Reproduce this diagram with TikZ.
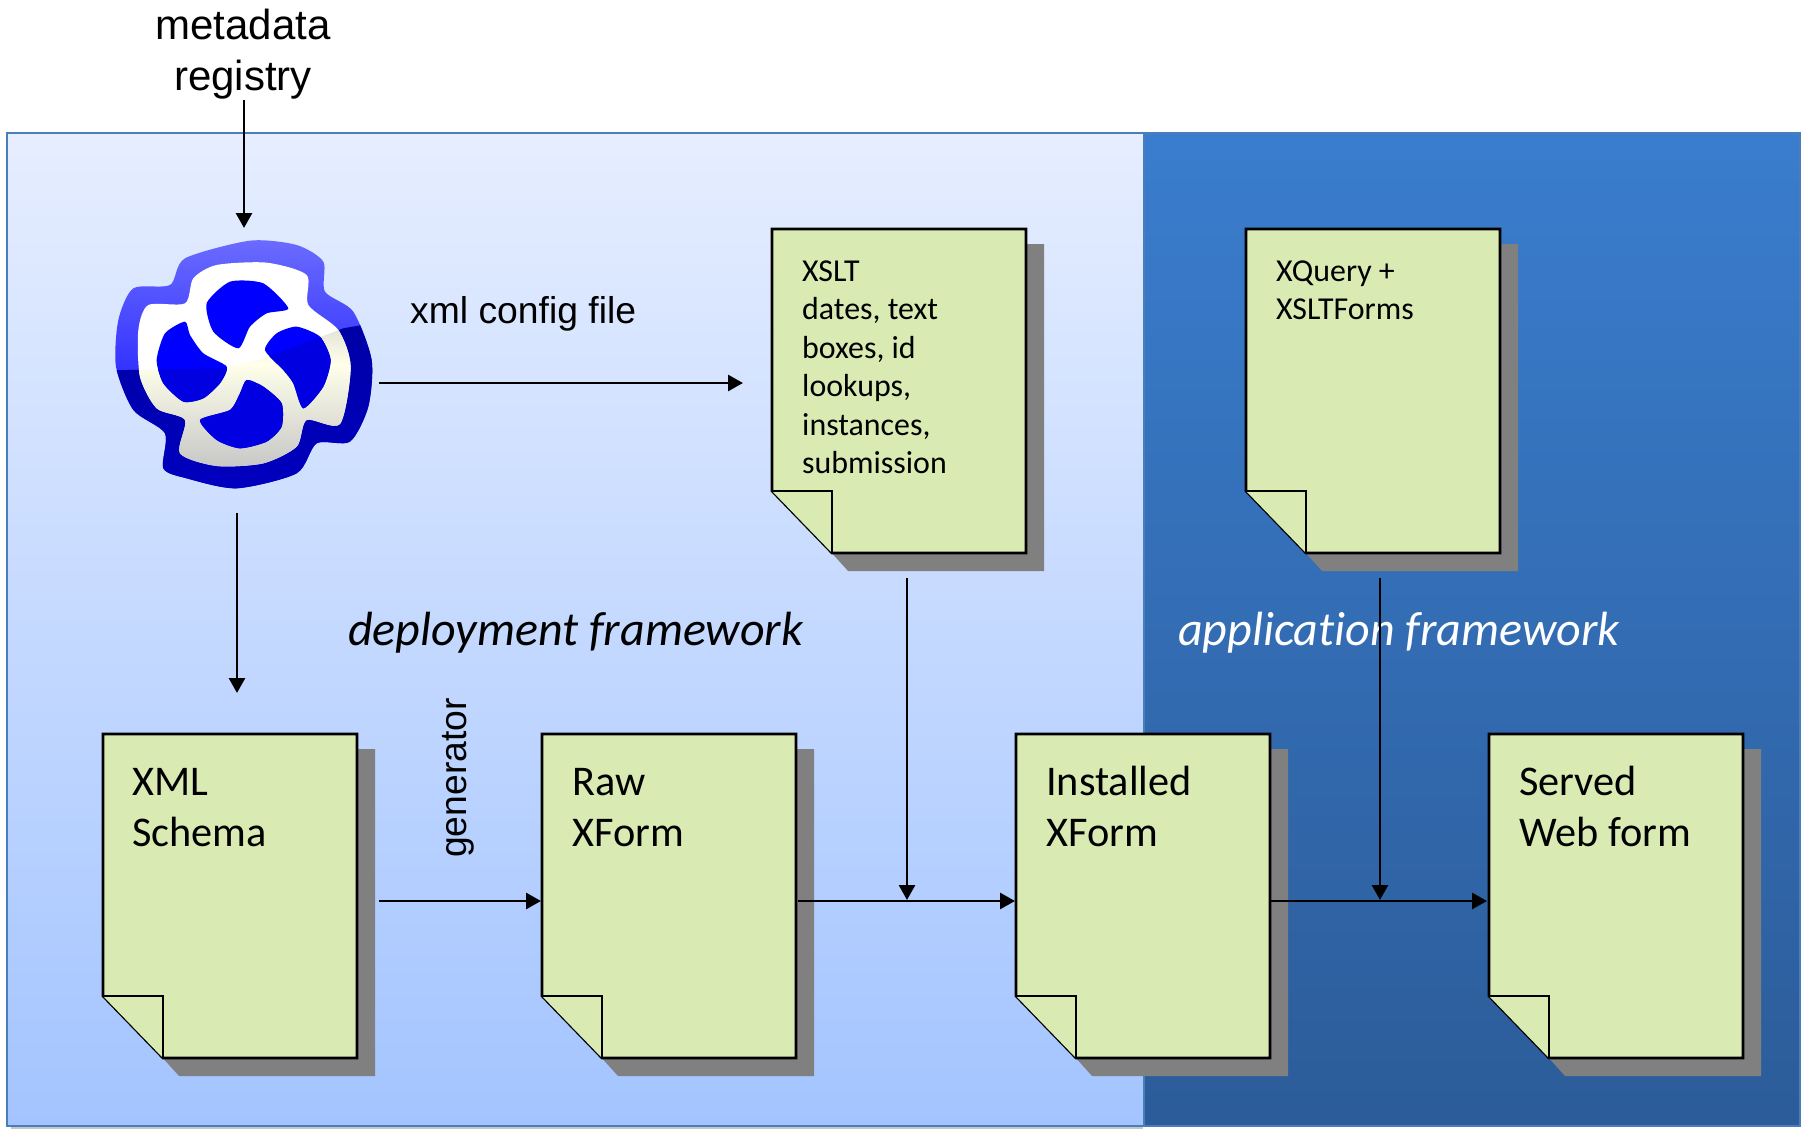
\documentclass[tikz,border=0pt]{standalone}
\usepackage{fontspec}
\setmainfont{Carlito}
\newfontfamily\arialf{Liberation Sans}
\usetikzlibrary{arrows.meta,shadows}
\definecolor{docgreen}{HTML}{D9EAB3}
\definecolor{docshadow}{HTML}{808080}
\definecolor{panelline}{HTML}{4A7EBB}
\definecolor{lefttop}{HTML}{E6EEFF}
\definecolor{leftbot}{HTML}{A3C4FF}
\definecolor{righttop}{HTML}{3A7DCE}
\definecolor{rightbot}{HTML}{2C5C99}
\tikzset{
  x=1pt,y=-1pt,
  flow/.style={draw=black,line width=2.8pt,-{Triangle[length=15pt,width=16pt]}},
  docbody/.style={draw=black,line width=2.6pt,fill=docgreen,line join=miter},
  docshade/.style={fill=docshadow},
  biglabel/.style={anchor=north west,inner sep=0pt,align=left,font=\fontsize{42.3}{51}\selectfont},
  smalllabel/.style={anchor=north west,inner sep=0pt,align=left,font=\fontsize{31.9}{38.5}\selectfont},
  arialtext/.style={inner sep=0pt,font=\arialf\fontsize{42}{51}\selectfont,align=center},
  arialsmall/.style={inner sep=0pt,font=\arialf\fontsize{37.3}{44}\selectfont},
  frametext/.style={inner sep=0pt,anchor=base west,font=\itshape\fontsize{48}{56}\selectfont},
}
% #1 left, #2 top
\newcommand{\paperdoc}[2]{%
  \fill[docshade] (#1+60,#2+15) -- (#1+272,#2+15) -- (#1+272,#2+342) -- (#1+76,#2+342) -- (#1+58,#2+322) -- cycle;
  \draw[docbody] (#1,#2) -- (#1+254,#2) -- (#1+254,#2+324) -- (#1+60,#2+324) -- (#1,#2+262) -- cycle;
  \draw[docbody,line width=2pt] (#1,#2+262) -- (#1+60,#2+262) -- (#1+60,#2+324);
}
\newcommand{\firstline}{\vphantom{Xdg}}
\begin{document}
\begin{tikzpicture}
\useasboundingbox (0,0) rectangle (1812,1129);
% panels
\fill[gray!45] (11,1129) rectangle (1143,1125);
\shade[top color=lefttop,bottom color=leftbot] (7,133) rectangle (1143,1125);
\shade[top color=righttop,bottom color=rightbot] (1143,133) rectangle (1800,1125);
\draw[panelline,line width=2pt] (7,133) rectangle (1799.5,1126);
\draw[panelline,line width=1.5pt] (1144,133) -- (1144,1125);
% documents
\paperdoc{772}{229}
\paperdoc{1246}{229}
\paperdoc{103}{734}
\paperdoc{542}{734}
\paperdoc{1016}{734}
\paperdoc{1489}{734}
\node[smalllabel] (xslt) at (802,259) {\firstline XSLT\\dates, text\\boxes, id\\lookups,\\instances,\\submission};
\node[smalllabel] (xquery) at (1276,259) {\firstline XQuery +\\XSLTForms};
\node[biglabel] (schema) at (132,766) {\firstline XML\\Schema};
\node[biglabel] (raw) at (572,766) {\firstline Raw\\XForm};
\node[biglabel] (installed) at (1046,766) {\firstline Installed\\XForm};
\node[biglabel] (served) at (1519,766) {\firstline Served\\Web form};
% logo
\begin{scope}[shift={(90,220)},x=0.3333pt,y=-0.3333pt]
  \def\outerblob{(480,62) (620,75) (700,125) (705,215) (790,275) (845,420) (835,560) (780,665) (680,670) (620,760) (440,805) (290,775) (220,745) (225,640) (130,570) (78,440) (85,300) (130,205) (240,195) (285,115)}
  \def\ringblob{(175,255) (285,250) (310,175) (380,135) (530,128) (650,165) (655,255) (745,330) (782,440) (750,612) (650,600) (620,680) (520,730) (380,738) (270,700) (285,600) (200,565) (150,470) (145,330)}
  \def\splitline{(0,452) -- (400,445) -- (510,420) -- (760,325) -- (900,300) -- (900,850) -- (0,850) -- cycle}
  \shade[top color=blue!58!white,bottom color=blue] plot[smooth cycle,tension=0.45] coordinates {\outerblob};
  \begin{scope}
    \clip \splitline;
    \shade[top color=black!40!blue,bottom color=black!25!blue] plot[smooth cycle,tension=0.45] coordinates {\outerblob};
  \end{scope}
  \fill[white] plot[smooth cycle,tension=0.45] coordinates {\ringblob};
  \begin{scope}
    \clip \splitline;
    \shade[top color=black!30,bottom color=black!22,middle color=white!92!yellow] plot[smooth cycle,tension=0.45] coordinates {\ringblob};
  \end{scope}
  \def\holes{%
    plot[smooth cycle,tension=0.4] coordinates {(350,250) (420,185) (520,190) (595,265) (530,280) (480,320) (445,385) (370,335)}
    plot[smooth cycle,tension=0.4] coordinates {(285,305) (300,345) (340,400) (410,440) (390,490) (340,535) (280,545) (220,490) (200,420) (225,340)}
    plot[smooth cycle,tension=0.4] coordinates {(525,390) (560,340) (620,320) (690,350) (722,420) (700,500) (640,565) (610,490) (580,450)}
    plot[smooth cycle,tension=0.4] coordinates {(470,480) (520,500) (575,550) (575,620) (530,665) (450,685) (380,660) (330,600) (420,570) (450,520)}}
  \fill[blue] \holes;
  \begin{scope}
    \clip \splitline;
    \fill[black!12!blue] \holes;
  \end{scope}
\end{scope}
% text labels
\node[arialtext] (registry) at (243,54) {metadata\\registry};
\node[arialsmall,anchor=base west] (config) at (410,323) {xml config file};
\node[arialsmall,rotate=90,anchor=base west] (generator) at (466,858) {generator};
\node[frametext] (deploy) at (348,645) {deployment framework};
\node[frametext,white] (appframe) at (1178,645) {applicat\kern0pt ion framework};
% connector ends
\coordinate (regbot) at (244,100);
\coordinate (logotop) at (244,228);
\coordinate (logoright) at (379,383);
\coordinate (xsltleft) at (743,383);
\coordinate (logobot) at (237,513);
\coordinate (schematop) at (237,693);
\coordinate (schemaright) at (379,901);
\coordinate (rawleft) at (541,901);
\coordinate (rawright) at (798,901);
\coordinate (instleft) at (1015,901);
\coordinate (xsltbot) at (907,578);
\coordinate (join1) at (907,900);
\coordinate (instright) at (1271,901);
\coordinate (servleft) at (1487,901);
\coordinate (xqbot) at (1380,578);
\coordinate (join2) at (1380,900);
\draw[flow] (regbot) -- (logotop);
\draw[flow] (logoright) -- (xsltleft);
\draw[flow] (logobot) -- (schematop);
\draw[flow] (schemaright) -- (rawleft);
\draw[flow] (rawright) -- (instleft);
\draw[flow] (xsltbot) -- (join1);
\draw[flow] (instright) -- (servleft);
\draw[flow] (xqbot) -- (join2);
\end{tikzpicture}
\end{document}
